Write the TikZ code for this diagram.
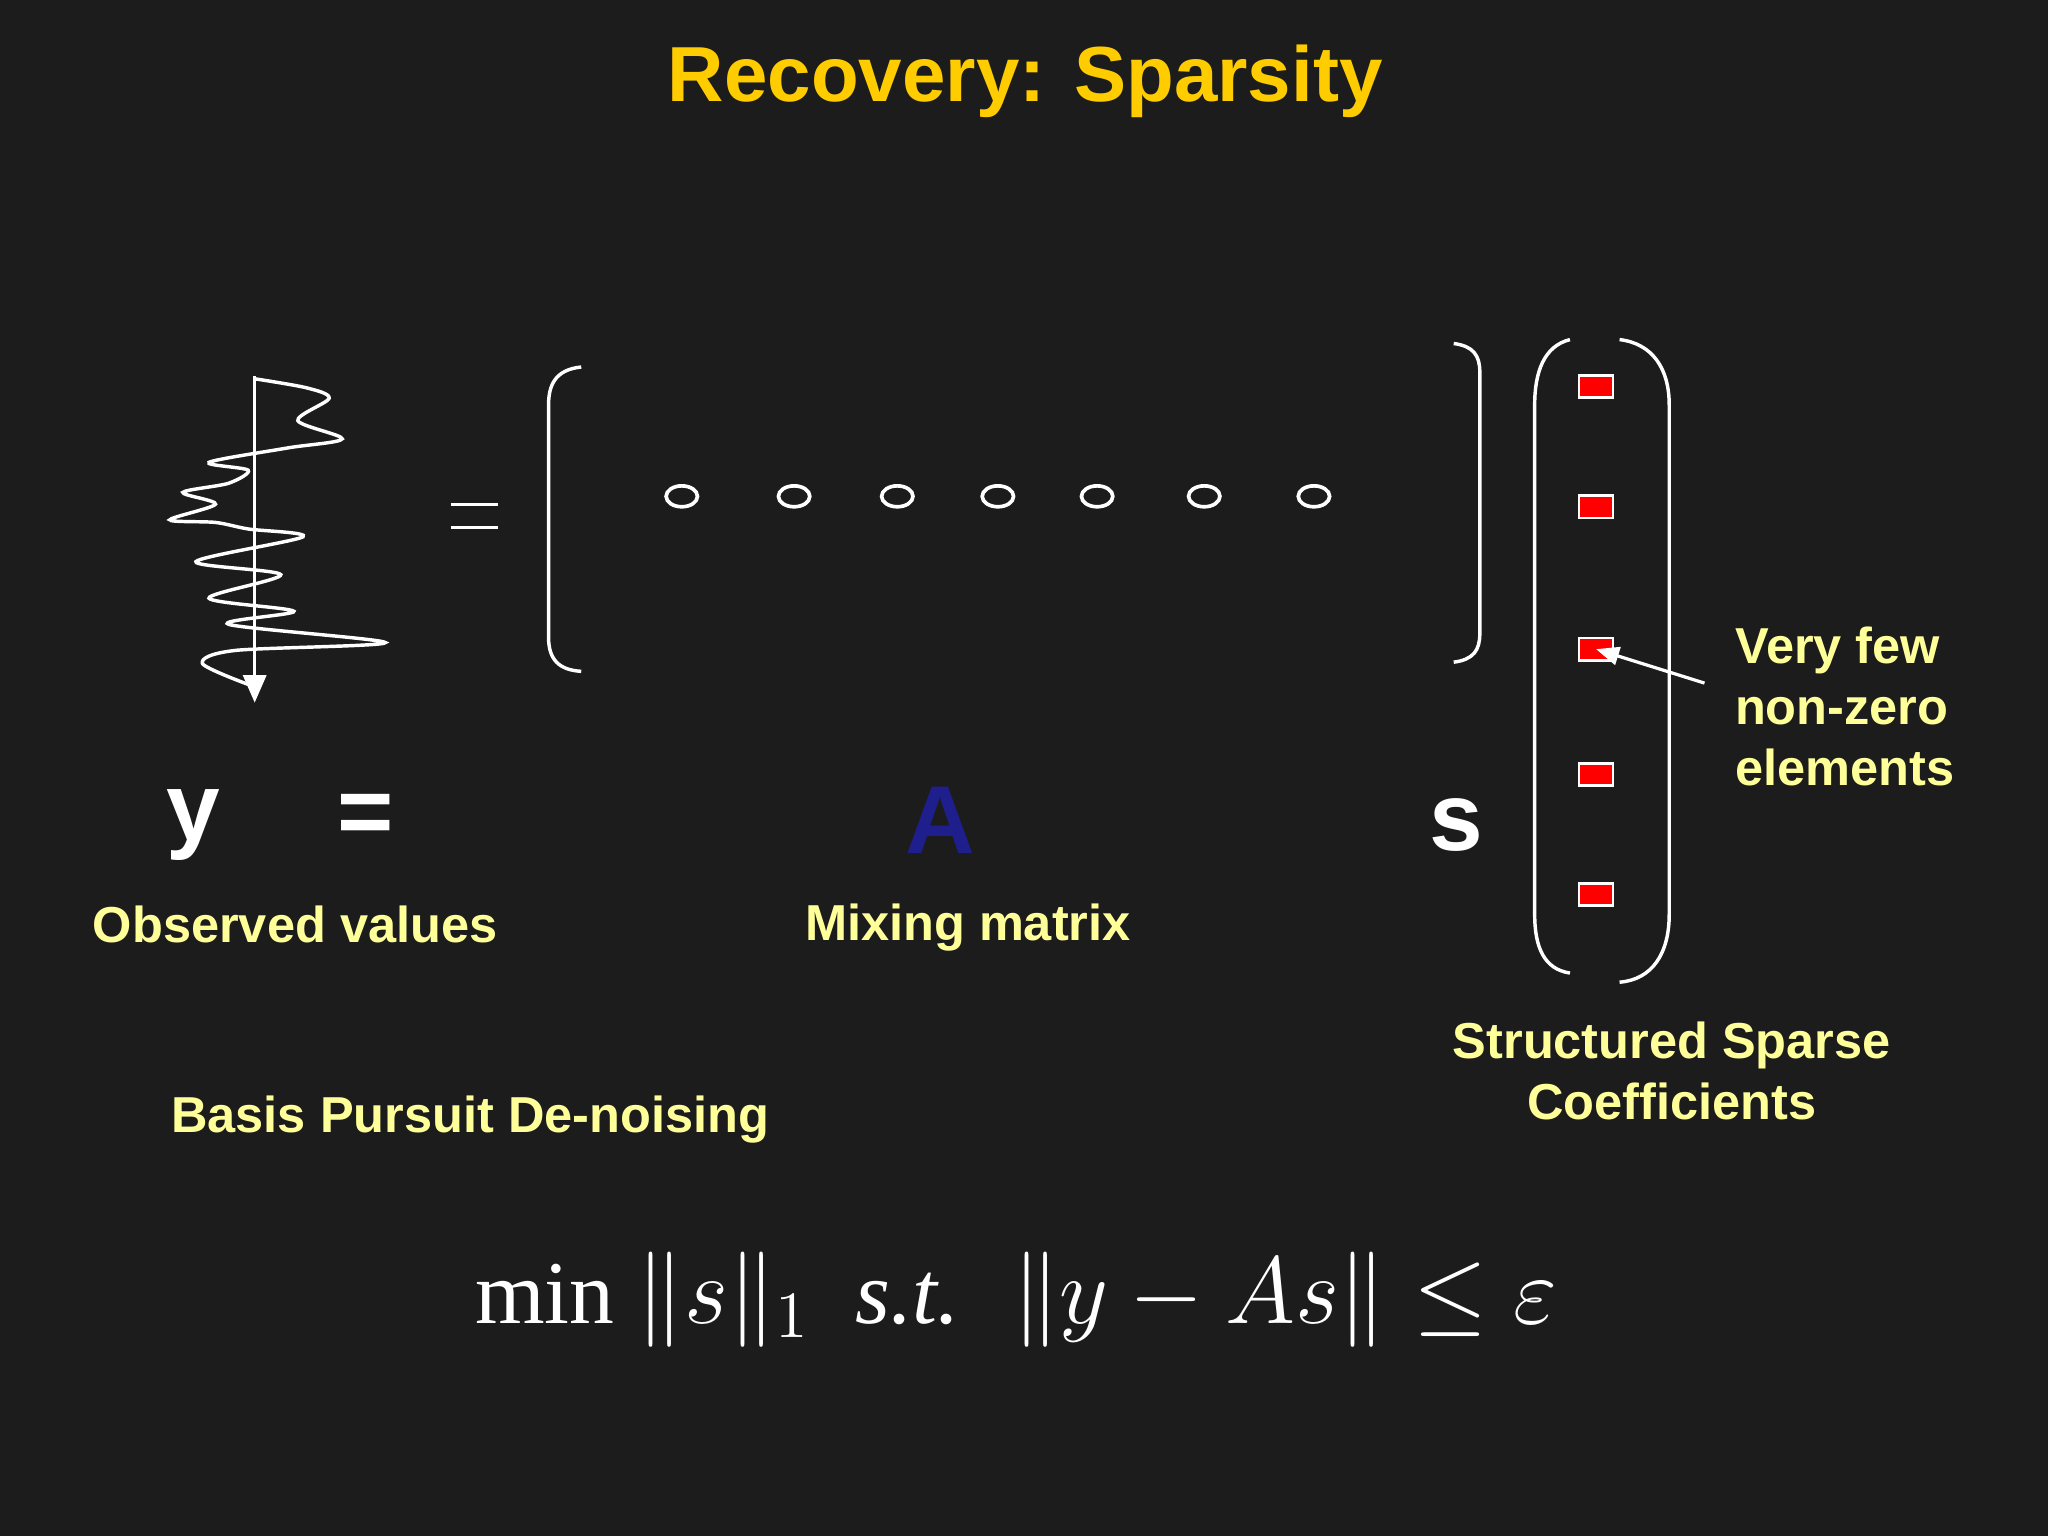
\documentclass[tikz,border=0pt]{standalone}
\usepackage{fontspec}
\setmainfont{Liberation Sans}
\newfontfamily\serifm{Liberation Serif}
\usetikzlibrary{arrows.meta,shapes.geometric}
\definecolor{bg}{HTML}{1C1C1C}
\definecolor{ttl}{HTML}{FFCC00}
\definecolor{lbl}{HTML}{FFFF99}
\definecolor{ablue}{HTML}{1E1E8C}
\begin{document}
\begin{tikzpicture}[x=0.01cm,y=-0.01cm,
  lab/.style={text=lbl,font=\fontsize{11pt}{13.3pt}\selectfont\bfseries,align=center},
  big/.style={font=\fontsize{21pt}{24pt}\selectfont\bfseries},
  wl/.style={white,line width=0.75pt},
  coef/.style={draw=white,fill=red,minimum width=0.26cm,minimum height=0.17cm,inner sep=0pt,line width=0.6pt},
  dot/.style={draw=white,ellipse,minimum width=0.24cm,minimum height=0.16cm,inner sep=0pt,line width=0.8pt}]
\useasboundingbox[fill=bg] (0,0) rectangle (1568,1176);
\node[text=ttl,font=\fontsize{17pt}{20pt}\selectfont\bfseries] (title) at (785,62) {Recovery: Sparsity};
% waveform
\coordinate (wt) at (195,288);
\coordinate (wb) at (195,538);
\draw[wl,-{Triangle[width=5pt,length=6pt]}] (wt) -- (wb);
\draw[wl,smooth] plot coordinates {(195,290)(235,297)(252,305)(228,322)(262,336)(220,343)(160,354)(190,360)(175,370)(140,377)(165,386)(130,398)(165,400)(190,405)(232,411)(150,430)(215,440)(160,458)(225,468)(175,478)(295,492)(180,498)(155,508)(190,524)};
% thin equals
\draw[white,line width=0.7pt] (345,386) -- (381,386) (345,404) -- (381,404);
% matrix brackets
\draw[wl] (445,281) .. controls (425,283) and (420,295) .. (420,310) -- (420,488) .. controls (420,505) and (428,513) .. (445,514);
\draw[wl] (1113,263) .. controls (1128,265) and (1133,272) .. (1133,285) -- (1133,485) .. controls (1133,498) and (1128,505) .. (1113,507);
\foreach \x [count=\i] in {522,608,687,764,840,922,1006}
  \node[dot] (d\i) at (\x,380) {};
% coefficient parentheses
\draw[wl] (1202,260) .. controls (1182,265) and (1175,285) .. (1175,310) -- (1175,700) .. controls (1175,725) and (1182,742) .. (1202,745);
\draw[wl] (1240,260) .. controls (1265,263) and (1278,282) .. (1278,310) -- (1278,700) .. controls (1278,730) and (1265,750) .. (1240,752);
\foreach \y [count=\i] in {296,388,497,593,685}
  \node[coef] (c\i) at (1222,\y) {};
\node[lab,align=left,anchor=west] (few) at (1316,541) {Very few\\non-zero\\elements};
\coordinate (fp) at (1305,523);
\draw[white,line width=0.7pt,-{Triangle[width=4pt,length=5pt]}] (fp) -- (c3.center);
% big letters
\node[white,big] (y) at (148,632) {y};
\node[white,big] (eq) at (280,627) {=};
\node[text=ablue,big] (A) at (720,628) {A};
\node[white,big] (s) at (1115,632) {s};
\node[lab] (obs) at (226,708) {Observed values};
\node[lab] (mix) at (741,710) {Mixing matrix};
\node[lab] (ssc) at (1280,820) {Structured Sparse\\Coefficients};
\node[lab] (bpd) at (360,857) {Basis Pursuit De-noising};
\node[white,font=\serifm\fontsize{19.5pt}{23pt}\selectfont] (f) at (778,995)
  {min $\|s\|_{1}$ \ \textit{s.t.} \ $\|y - As\| \le \varepsilon$};
\end{tikzpicture}
\end{document}
